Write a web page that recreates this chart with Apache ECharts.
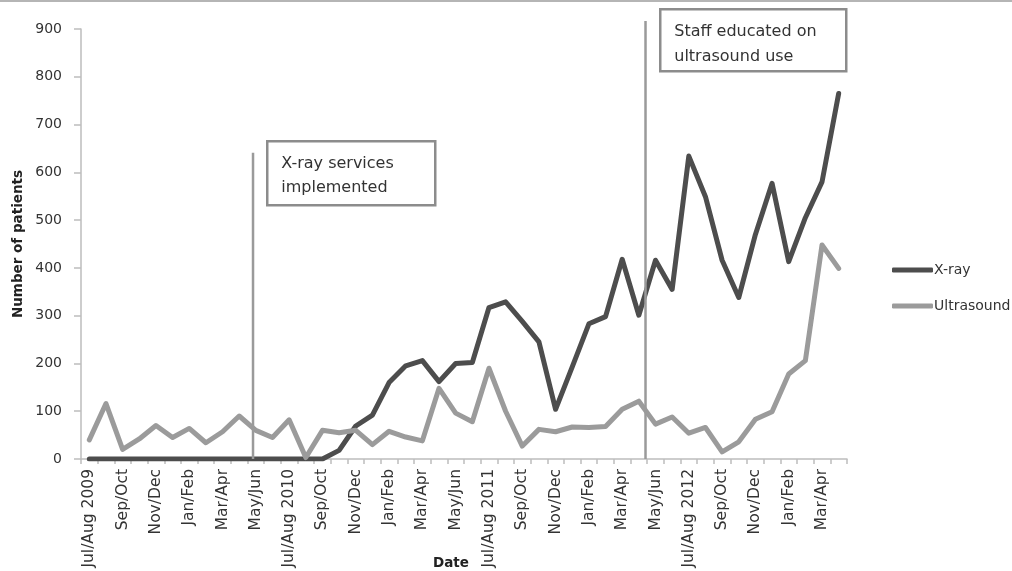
<!DOCTYPE html>
<html>
<head>
<meta charset="utf-8">
<script src="https://cdn.jsdelivr.net/npm/echarts@6/dist/echarts.min.js"></script>
<style>html,body{margin:0;padding:0;background:#fff;}#chart{width:1012px;height:571px;}</style>
</head>
<body>
<div id="chart"></div>
<script>
// 46 monthly categories, Jul 2009 .. Apr 2013
const months = [
  'Jul 2009','Aug 2009','Sep 2009','Oct 2009','Nov 2009','Dec 2009',
  'Jan 2010','Feb 2010','Mar 2010','Apr 2010','May 2010','Jun 2010','Jul 2010','Aug 2010','Sep 2010','Oct 2010','Nov 2010','Dec 2010',
  'Jan 2011','Feb 2011','Mar 2011','Apr 2011','May 2011','Jun 2011','Jul 2011','Aug 2011','Sep 2011','Oct 2011','Nov 2011','Dec 2011',
  'Jan 2012','Feb 2012','Mar 2012','Apr 2012','May 2012','Jun 2012','Jul 2012','Aug 2012','Sep 2012','Oct 2012','Nov 2012','Dec 2012',
  'Jan 2013','Feb 2013','Mar 2013','Apr 2013'
];
// one tick label per two months
const tickLabels = [
  'Jul/Aug 2009','Sep/Oct','Nov/Dec','Jan/Feb','Mar/Apr','May/Jun',
  'Jul/Aug 2010','Sep/Oct','Nov/Dec','Jan/Feb','Mar/Apr','May/Jun',
  'Jul/Aug 2011','Sep/Oct','Nov/Dec','Jan/Feb','Mar/Apr','May/Jun',
  'Jul/Aug 2012','Sep/Oct','Nov/Dec','Jan/Feb','Mar/Apr'
];
const xray = [
  0,0,0,0,0,0,0,0,0,0,0,0,0,0,0,18,69,92,160,195,206,162,200,202,
  317,329,288,245,104,193,283,298,418,301,416,355,634,549,416,338,470,577,413,505,580,765
];
const ultrasound = [
  40,116,20,42,70,45,64,34,57,90,60,45,82,3,60,55,60,30,58,46,38,148,96,78,
  190,100,27,62,57,67,66,68,104,121,73,88,54,66,15,36,83,99,178,206,448,399
];
const yTicks = { min: 0, max: 900, interval: 100 };
// annotation lines: position in month units from the start of the axis, and value of top end
const annotations = [
  { name: 'X-ray services implemented', at: 10.33, top: 641 },
  { name: 'Staff educated on ultrasound use', at: 33.9, top: 917 }
];

const FONT = 'DejaVu Sans';
const chart = echarts.init(document.getElementById('chart'), null, { renderer: 'canvas' });

const annSeries = annotations.map(a => ({
  name: a.name,
  type: 'line',
  xAxisIndex: 1,
  data: [[a.at, 0], [a.at, a.top]],
  showSymbol: false,
  symbol: 'none',
  clip: false,
  silent: true,
  z: 5,
  lineStyle: { color: '#9a9a9a', width: 2.5 }
}));

chart.setOption({
  animation: false,
  backgroundColor: '#fff',
  grid: { left: 81, right: 165, top: 29, bottom: 112, containLabel: false, outerBoundsMode: 'none' },
  legend: {
    data: ['X-ray', 'Ultrasound'],
    orient: 'vertical',
    left: 887,
    top: 258,
    itemWidth: 41,
    itemHeight: 5,
    itemGap: 22,
    icon: 'roundRect',
    textStyle: { fontFamily: FONT, fontSize: 14, color: '#333', padding: [0, 0, 0, -4] }
  },
  xAxis: [{
    type: 'category',
    data: months,
    boundaryGap: true,
    name: 'Date',
    nameLocation: 'middle',
    nameGap: 97,
    nameMoveOverlap: false,
    nameTextStyle: { fontFamily: FONT, fontSize: 13.5, fontWeight: 'bold', color: '#222', padding: [0, 26, 0, 0] },
    axisLine: { lineStyle: { color: '#bdbdbd', width: 1.5 } },
    axisTick: { show: true, interval: 0, length: 5, lineStyle: { color: '#bdbdbd', width: 1.5 } },
    axisLabel: {
      interval: 0,
      rotate: 90,
      margin: 10,
      fontFamily: FONT,
      fontSize: 15.5,
      color: '#333',
      formatter: (v, i) => (i % 2 === 0 ? tickLabels[i / 2] : '')
    },
    splitLine: { show: false }
  }, {
    type: 'value',
    min: 0,
    max: months.length,
    show: false
  }],
  yAxis: {
    type: 'value',
    min: yTicks.min,
    max: yTicks.max,
    interval: yTicks.interval,
    name: 'Number of patients',
    nameLocation: 'middle',
    nameRotate: 90,
    nameGap: 56,
    nameMoveOverlap: false,
    nameTextStyle: { fontFamily: FONT, fontSize: 13.5, fontWeight: 'bold', color: '#222' },
    axisLine: { show: true, lineStyle: { color: '#bdbdbd', width: 1.5 } },
    axisTick: { show: true, length: 7, lineStyle: { color: '#bdbdbd', width: 1.5 } },
    axisLabel: { margin: 19, fontFamily: FONT, fontSize: 14, color: '#333' },
    splitLine: { show: false }
  },
  series: [
    {
      name: 'X-ray', type: 'line', data: xray, symbol: 'none', showSymbol: false,
      color: '#4d4d4d',
      lineStyle: { color: '#4d4d4d', width: 5, cap: 'round', join: 'round' }, z: 3
    },
    {
      name: 'Ultrasound', type: 'line', data: ultrasound, symbol: 'none', showSymbol: false,
      color: '#9b9b9b',
      lineStyle: { color: '#9b9b9b', width: 5, cap: 'round', join: 'round' }, z: 4
    }
  ].concat(annSeries),
  graphic: [
    { type: 'line', shape: { x1: 0, y1: 1, x2: 1012, y2: 1 }, style: { stroke: '#b5b5b5', lineWidth: 2 } },
    {
      type: 'group', left: 266, top: 140, z: 10,
      children: [
        { type: 'rect', shape: { x: 0, y: 0, width: 168, height: 64 }, style: { fill: '#fff', stroke: '#8c8c8c', lineWidth: 2.5 } },
        { type: 'text', x: 14, y: 11, style: { text: 'X-ray services\nimplemented', font: '16px "DejaVu Sans"', fill: '#333', lineHeight: 24 } }
      ]
    },
    {
      type: 'group', left: 659, top: 8, z: 10,
      children: [
        { type: 'rect', shape: { x: 0, y: 0, width: 186, height: 62 }, style: { fill: '#fff', stroke: '#8c8c8c', lineWidth: 2.5 } },
        { type: 'text', x: 14, y: 10, style: { text: 'Staff educated on\nultrasound use', font: '16px "DejaVu Sans"', fill: '#333', lineHeight: 25 } }
      ]
    }
  ]
});
</script>
</body>
</html>
